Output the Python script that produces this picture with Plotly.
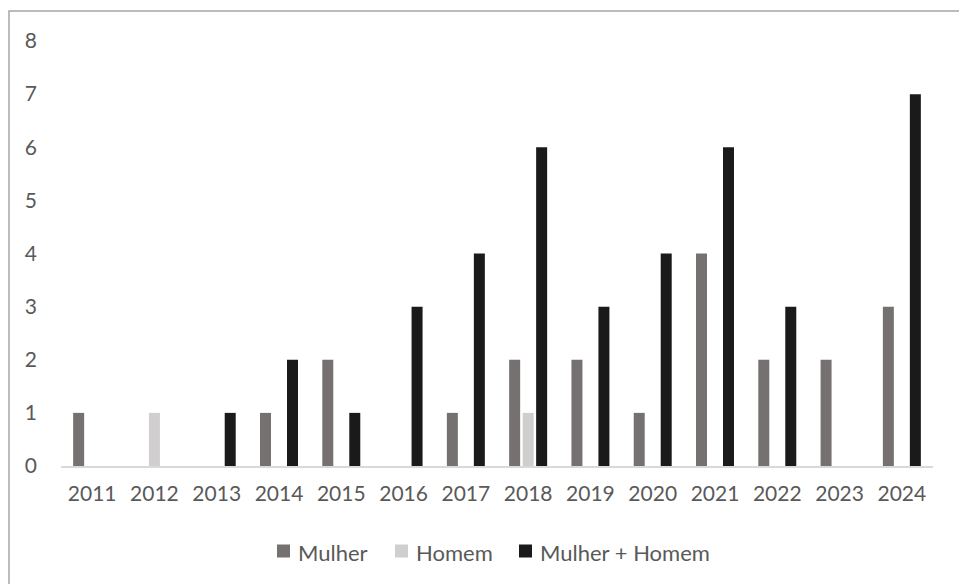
import plotly.graph_objects as go

# Publication counts per year, split by author group
anos = ["2011", "2012", "2013", "2014", "2015", "2016", "2017",
        "2018", "2019", "2020", "2021", "2022", "2023", "2024"]
mulher = [1, 0, 0, 1, 2, 0, 1, 2, 2, 1, 4, 2, 2, 3]
homem = [0, 1, 0, 0, 0, 0, 0, 1, 0, 0, 0, 0, 0, 0]
mulher_homem = [0, 0, 1, 2, 1, 3, 4, 6, 3, 4, 6, 3, 0, 7]

nomes = ["Mulher", "Homem", "Mulher + Homem"]
cores = ["#767171", "#D0CECE", "#1A1A1A"]
valores = [mulher, homem, mulher_homem]

W, H = 959, 584
ml, mr, mt, mb = 61, 26, 41, 118
pw, ph = W - ml - mr, H - mt - mb

text_color = "#595959"
font_family = "Lato, 'Open Sans', sans-serif"
fsize = 21


def px_x(px):
    return (px - ml) / pw


def px_y(py):
    return (H - mb - py) / ph


fig = go.Figure()
for name, vals, color in zip(nomes, valores, cores):
    fig.add_trace(go.Bar(
        x=anos, y=vals, name=name,
        marker=dict(color=color, line=dict(width=0)),
    ))

# outer chart frame (runs past the right/bottom edges of the page)
fig.add_shape(type="rect", xref="paper", yref="paper",
              x0=px_x(9), x1=px_x(W + 20), y0=px_y(H + 20), y1=px_y(11),
              line=dict(color="#A6A6A6", width=1.5), fillcolor="rgba(0,0,0,0)",
              layer="below")

# legend row below the axis: square swatch followed by the series name
legend_x = [277, 395, 519]
legend_yc = 551
for name, color, lx in zip(nomes, cores, legend_x):
    fig.add_shape(type="rect", xref="paper", yref="paper",
                  x0=px_x(lx), x1=px_x(lx + 13),
                  y0=px_y(legend_yc + 6.5), y1=px_y(legend_yc - 6.5),
                  line=dict(width=0), fillcolor=color)
    fig.add_annotation(x=px_x(lx + 19), y=px_y(legend_yc + 1),
                       xref="paper", yref="paper",
                       xanchor="left", yanchor="middle", showarrow=False,
                       text=name, font=dict(size=fsize + 1, color=text_color))

fig.update_layout(
    width=W, height=H,
    margin=dict(l=ml, r=mr, t=mt, b=mb),
    paper_bgcolor="white", plot_bgcolor="white",
    barmode="group", bargap=0.35, bargroupgap=0.185,
    font=dict(family=font_family, size=fsize, color=text_color),
    showlegend=False,
    xaxis=dict(type="category", showgrid=False, showline=True,
               linecolor="#D9D9D9", linewidth=1.5, ticks="",
               tickfont=dict(size=fsize, color=text_color),
               ticklabelstandoff=8),
    yaxis=dict(range=[0, 8], dtick=1, showgrid=False, zeroline=False,
               showline=False, ticks="",
               tickfont=dict(size=fsize, color=text_color),
               ticklabelstandoff=23),
)

fig.write_html("out.html")
